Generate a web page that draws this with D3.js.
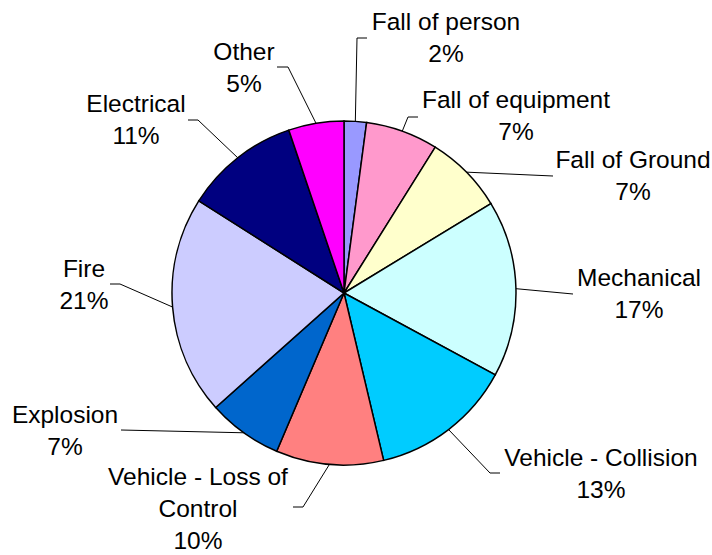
<!DOCTYPE html>
<meta charset="utf-8">
<style>
body {
  margin: 0;
  background: #ffffff;
}
svg {
  display: block;
}
text.label {
  font-family: Arial, 'Liberation Sans', sans-serif;
  font-size: 24.5px;
  fill: #000000;
}
path.slice {
  stroke: #000000;
  stroke-width: 1.5;
}
polyline.leader {
  fill: none;
  stroke: #000000;
  stroke-width: 1;
}
</style>
<body>
<svg width="712" height="555"></svg>
<script src="https://d3js.org/d3.v7.min.js"></script>
<script>
// data (clockwise from 12 o'clock)
const categories = ['Fall of person', 'Fall of equipment', 'Fall of Ground', 'Mechanical',
  'Vehicle - Collision', 'Vehicle - Loss of Control', 'Explosion', 'Fire', 'Electrical', 'Other'];
const values = [2.1, 6.8, 7.4, 16.6, 13.4, 10.1, 7.0, 20.6, 10.8, 5.2];
const colors = ['#9999FF', '#FF99CC', '#FFFFCC', '#CCFFFF', '#00CCFF',
  '#FF8080', '#0066CC', '#CCCCFF', '#000080', '#FF00FF'];

// how each category name is broken into lines
const labelLines = [['Fall of person'], ['Fall of equipment'], ['Fall of Ground'], ['Mechanical'],
  ['Vehicle - Collision'], ['Vehicle - Loss of', 'Control'], ['Explosion'], ['Fire'], ['Electrical'], ['Other']];

// label layout (not data): label centre / first baseline, leader elbow and end
const labelPos = [[446, 30], [516, 108], [633, 168], [639, 286], [601, 466],
  [198, 485], [65, 423], [84, 277], [136, 112], [244, 60]];
const leaderElbow = [[357, 38], [408, 117], [553, 176], [573, 294], [490, 473],
  [303, 507], [121, 430], [120, 284], [198, 120], [288, 67]];
const leaderEnd = [[367, 38], [418, 117], [553, 176], [573, 294], [500, 473],
  [293, 507], [121, 430], [110, 284], [188, 120], [277, 67]];

const cx = 344, cy = 293, radius = 172;
const lineHeight = 32;

const svg = d3.select('svg');

const data = categories.map((c, i) => ({ name: c, value: values[i], i: i }));

const pie = d3.pie()
  .sort(null)
  .value(d => d.value);

const arc = d3.arc()
  .innerRadius(0)
  .outerRadius(radius);

const arcs = pie(data);

const chart = svg.append('g')
  .attr('transform', `translate(${cx}, ${cy})`);

chart.selectAll('path.slice')
  .data(arcs)
  .enter()
  .append('path')
  .attr('class', 'slice')
  .attr('fill', d => colors[d.data.i])
  .attr('d', arc);

// leader lines start on the rim at the slice's middle angle
svg.selectAll('polyline.leader')
  .data(arcs)
  .enter()
  .append('polyline')
  .attr('class', 'leader')
  .attr('points', d => {
    const mid = (d.startAngle + d.endAngle) / 2;
    const sx = cx + radius * Math.sin(mid);
    const sy = cy - radius * Math.cos(mid);
    const e = leaderElbow[d.data.i];
    const f = leaderEnd[d.data.i];
    return [[sx, sy], e, f].map(p => p.join(',')).join(' ');
  });

const labels = svg.selectAll('text.label')
  .data(arcs)
  .enter()
  .append('text')
  .attr('class', 'label')
  .attr('text-anchor', 'middle')
  .attr('x', d => labelPos[d.data.i][0])
  .attr('y', d => labelPos[d.data.i][1]);

labels.each(function (d) {
  const t = d3.select(this);
  const lines = labelLines[d.data.i].concat([Math.round(d.data.value) + '%']);
  lines.forEach((ln, k) => {
    t.append('tspan')
      .attr('x', labelPos[d.data.i][0])
      .attr('dy', k === 0 ? 0 : lineHeight)
      .text(ln);
  });
});
</script>
</body>
